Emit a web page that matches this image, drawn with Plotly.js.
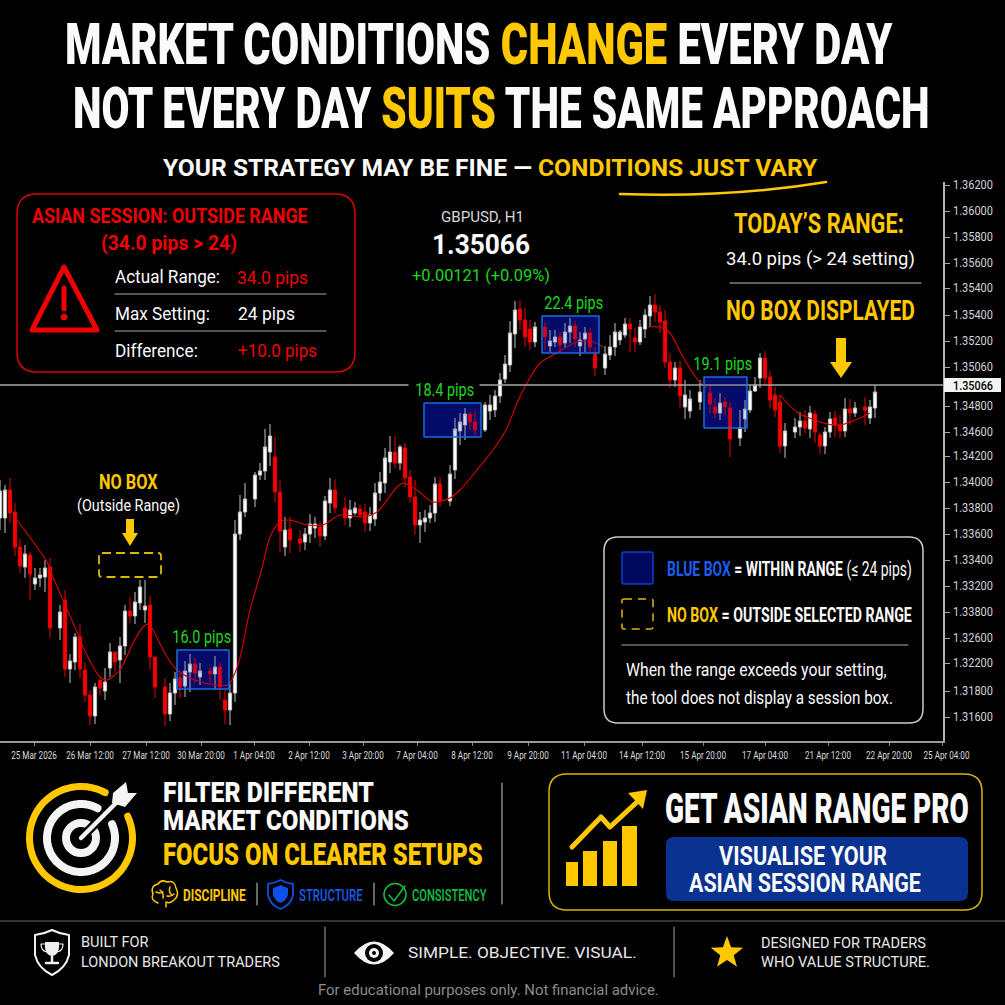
<!DOCTYPE html>
<html><head><meta charset="utf-8">
<script src="https://cdn.plot.ly/plotly-3.0.1.min.js"></script>
<style>html,body{margin:0;padding:0;background:#000}#c{width:1005px;height:1005px}</style>
</head><body><div id="c"></div>
<script>
// ---- chart data ----
const barNo=[0,1,2,3,4,5,6,7,8,9, 10,12,13,14,15,16,17,18,19,20, 21,22,23,24,25,26,27,28,29,30, 31,33,34,35,36,37,38,39,40,42, 43,44,45,46,47,48,49,51,52,53, 54,55,56,57,58,60,61,62,63,64, 65,66,67,69,70,71,72,73,74,75, 76,77,78,79,80,81,82,83,84,85, 86,87,88,90,91,92,93,94,95,97, 98,99,100,101,102,103,104,105,106,107, 109,110,111,112,113,114,115,116,117,118, 119,121,122,123,124,125,126,127,128,129, 130,131,132,133,134,135,136,137,138,140, 142,143,144,145,146,148,149,150,151,152, 153,154,155,156,157,159,160,161,162,163, 164,165,166,167,168,169,170,171,173,174, 175];
const highs=[1.33840,1.33800,1.33856,1.33656,1.33368,1.33320,1.33264,1.33136,1.33136,1.33200,
1.33216,1.32840,1.32960,1.32448,1.32616,1.32688,1.32384,1.32160,1.32216,1.32240,
1.32336,1.32536,1.32464,1.32584,1.32840,1.32904,1.32944,1.33040,1.33040,1.32912,
1.32424,1.32256,1.32216,1.32304,1.32312,1.32392,1.32448,1.32416,1.32376,1.32344,
1.32432,1.32384,1.32160,1.32208,1.33520,1.33720,1.33816,1.33904,1.33976,1.34248,
1.34288,1.34184,1.33832,1.33544,1.33544,1.33440,1.33456,1.33568,1.33544,1.33504,
1.33712,1.33856,1.33848,1.33704,1.33680,1.33664,1.33640,1.33648,1.33624,1.33816,
1.33904,1.34096,1.34192,1.34192,1.34120,1.34136,1.33920,1.33840,1.33584,1.33600,
1.33640,1.33864,1.33864,1.33960,1.34336,1.34376,1.34416,1.34384,1.34400,1.34464,
1.34520,1.34560,1.34696,1.34840,1.35112,1.35272,1.35280,1.35216,1.35120,1.35104,
1.35104,1.35040,1.35040,1.35024,1.35096,1.35136,1.35112,1.35024,1.35064,1.35056,
1.34904,1.34912,1.35000,1.35096,1.35040,1.35136,1.35136,1.35056,1.35120,1.35208,
1.35312,1.35328,1.35240,1.35200,1.34856,1.34784,1.34792,1.34640,1.34560,1.34640,
1.34600,1.34496,1.34536,1.34504,1.34464,1.34400,1.34480,1.34600,1.34664,1.34856,
1.34872,1.34712,1.34584,1.34520,1.34296,1.34336,1.34384,1.34400,1.34432,1.34400,
1.34216,1.34264,1.34384,1.34392,1.34360,1.34496,1.34488,1.34464,1.34504,1.34480,
1.34600];
const opens=[1.33536,1.33536,1.33760,1.33584,1.33304,1.33144,1.33240,1.33008,1.33056,1.33064,
1.33144,1.32656,1.32880,1.32328,1.32384,1.32584,1.32320,1.32120,1.31952,1.32240,
1.32152,1.32336,1.32464,1.32400,1.32512,1.32792,1.32752,1.32856,1.32800,1.32840,
1.32424,1.32184,1.31968,1.32136,1.32256,1.32192,1.32304,1.32368,1.32264,1.32312,
1.32288,1.32344,1.32080,1.32000,1.32136,1.33408,1.33584,1.33688,1.33880,1.33912,
1.34064,1.34024,1.33744,1.33304,1.33448,1.33368,1.33344,1.33408,1.33456,1.33464,
1.33392,1.33656,1.33760,1.33616,1.33536,1.33576,1.33608,1.33584,1.33496,1.33528,
1.33736,1.33816,1.33984,1.34064,1.33976,1.34096,1.33864,1.33704,1.33480,1.33504,
1.33536,1.33576,1.33808,1.33672,1.33920,1.34232,1.34280,1.34368,1.34304,1.34240,
1.34392,1.34400,1.34512,1.34648,1.34760,1.35008,1.35208,1.35120,1.35048,1.34944,
1.35064,1.34912,1.34944,1.34984,1.34936,1.35024,1.35072,1.34912,1.34968,1.35016,
1.34848,1.34736,1.34840,1.34904,1.34960,1.35000,1.35088,1.34976,1.34944,1.35048,
1.35152,1.35240,1.35184,1.35112,1.34784,1.34640,1.34736,1.34424,1.34392,1.34464,
1.34536,1.34424,1.34376,1.34464,1.34416,1.34176,1.34328,1.34400,1.34552,1.34656,
1.34816,1.34664,1.34520,1.34464,1.34112,1.34224,1.34264,1.34312,1.34248,1.34368,
1.34200,1.34112,1.34224,1.34336,1.34280,1.34232,1.34408,1.34376,1.34424,1.34336,
1.34416];
const closes=[1.33752,1.33760,1.33576,1.33304,1.33152,1.33248,1.33088,1.33056,1.33080,1.33136,
1.32656,1.32784,1.32328,1.32392,1.32584,1.32328,1.32120,1.31952,1.32184,1.32176,
1.32224,1.32464,1.32384,1.32512,1.32792,1.32752,1.32864,1.32984,1.32832,1.32424,
1.32184,1.31968,1.32136,1.32248,1.32184,1.32312,1.32368,1.32296,1.32312,1.32288,
1.32344,1.32184,1.32000,1.32136,1.33408,1.33584,1.33688,1.33880,1.33912,1.34104,
1.34192,1.33744,1.33432,1.33440,1.33360,1.33336,1.33408,1.33488,1.33488,1.33392,
1.33672,1.33760,1.33616,1.33536,1.33600,1.33616,1.33560,1.33496,1.33560,1.33736,
1.33824,1.34016,1.34064,1.33976,1.34104,1.33856,1.33704,1.33480,1.33520,1.33536,
1.33576,1.33808,1.33672,1.33888,1.34248,1.34304,1.34368,1.34304,1.34240,1.34440,
1.34440,1.34512,1.34640,1.34768,1.35016,1.35200,1.35120,1.34984,1.34944,1.35064,
1.34984,1.34952,1.34984,1.34920,1.35024,1.35072,1.34968,1.34960,1.35016,1.34904,
1.34736,1.34848,1.34904,1.35024,1.35024,1.35088,1.35048,1.34944,1.35064,1.35160,
1.35240,1.35184,1.35104,1.34784,1.34640,1.34736,1.34512,1.34520,1.34488,1.34544,
1.34448,1.34376,1.34456,1.34424,1.34168,1.34256,1.34408,1.34552,1.34600,1.34816,
1.34656,1.34480,1.34400,1.34112,1.34232,1.34264,1.34312,1.34256,1.34376,1.34224,
1.34112,1.34224,1.34328,1.34280,1.34232,1.34408,1.34376,1.34416,1.34400,1.34424,
1.34544];
const lows=[1.33440,1.33416,1.33496,1.33232,1.33096,1.33056,1.32880,1.32960,1.32984,1.32944,
1.32576,1.32560,1.32264,1.32216,1.32320,1.32256,1.32064,1.31880,1.31888,1.32120,
1.32080,1.32264,1.32296,1.32216,1.32440,1.32696,1.32688,1.32800,1.32696,1.32320,
1.32096,1.31872,1.31912,1.32040,1.32096,1.32104,1.32144,1.32216,1.32200,1.32216,
1.32168,1.32080,1.31888,1.31880,1.32064,1.33360,1.33544,1.33624,1.33840,1.33840,
1.33952,1.33664,1.33264,1.33232,1.33256,1.33264,1.33280,1.33336,1.33376,1.33304,
1.33360,1.33576,1.33576,1.33480,1.33464,1.33560,1.33536,1.33424,1.33432,1.33472,
1.33672,1.33736,1.33896,1.33936,1.33920,1.33784,1.33656,1.33400,1.33336,1.33424,
1.33496,1.33504,1.33624,1.33632,1.33848,1.34120,1.34160,1.34240,1.34184,1.34224,
1.34320,1.34344,1.34456,1.34616,1.34704,1.34896,1.35040,1.34904,1.34880,1.34904,
1.34880,1.34864,1.34904,1.34864,1.34896,1.34936,1.34904,1.34832,1.34864,1.34864,
1.34672,1.34680,1.34800,1.34832,1.34920,1.34976,1.34864,1.34864,1.34920,1.34976,
1.35064,1.35104,1.35016,1.34736,1.34576,1.34584,1.34416,1.34328,1.34336,1.34400,
1.34376,1.34336,1.34320,1.34360,1.34024,1.34112,1.34224,1.34376,1.34544,1.34576,
1.34600,1.34416,1.34344,1.34056,1.34016,1.34176,1.34192,1.34216,1.34176,1.34136,
1.34048,1.34048,1.34176,1.34184,1.34176,1.34184,1.34280,1.34344,1.34280,1.34288,
1.34336];
const emaBar=[3.4,9.4,10.6,12.6,15.4,16.6,20,21.4,24,26.6,28.6,29.6,30.6,33.4,35.4,39,43,45.6,47.6,50,52.4,54,56,58,61.4,64.6,68,72.6,75.4,79.4,80.6,83.4,86.6,90,92,95.4,98.6,101.4,103.4,105.4,108,110.6,115.4,118.6,120.6,null,129.6,132,134,136.6,139.6,141.4,null,156,159.4,164.6,168,172,174];
const emaVal=[1.33520,1.33184,1.33064,1.32880,1.32624,1.32504,1.32264,1.32240,1.32320,1.32536,1.32664,1.32688,1.32640,1.32424,1.32320,1.32240,1.32200,1.32200,1.32360,1.32800,1.33136,1.33384,1.33504,1.33520,1.33480,1.33480,1.33560,1.33544,1.33584,1.33784,1.33816,1.33760,1.33664,1.33696,1.33760,1.33920,1.34080,1.34256,1.34456,1.34616,1.34776,1.34840,1.34944,1.34944,1.34904,null,1.35064,1.35064,1.35016,1.34824,1.34640,1.34576,null,1.34520,1.34384,1.34296,1.34280,1.34336,1.34376];
const priceTicks=[1.36200,1.35992,1.35784,1.35576,1.35376,1.35160,1.34952,1.34744,1.34432,1.34224,1.34032,1.33824,1.33616,1.33408,1.33200,1.32992,1.32784,1.32576,1.32376,1.32152,1.31944];
const priceLabels=["1.36200","1.36000","1.35800","1.35600","1.35400","1.35400","1.35200","1.35060","1.34800","1.34600","1.34200","1.34000","1.33800","1.33600","1.33400","1.33200","1.33800","1.32600","1.32200","1.31800","1.31600"];
const timeTicks=[6.8,18,29.2,40.2,50.8,61.8,72.6,83.4,94.4,105.6,116.8,128.4,140.6,153,165.6,177.8,188.5];
const timeLabels=["25 Mar 2026","26 Mar 12:00","27 Mar 12:00","30 Mar 20:00","1 Apr 04:00","2 Apr 12:00","3 Apr 20:00","7 Apr 04:00","8 Apr 12:00","9 Apr 20:00","11 Apr 04:00","14 Apr 12:00","15 Apr 20:00","17 Apr 04:00","21 Apr 12:00","22 Apr 20:00","25 Apr 04:00"];
const boxStart=[35.4,84.8,108.4,140.8];
const boxEnd=[45.8,96.2,119.8,149.4];
const boxHigh=[1.32480,1.34456,1.35152,1.34664];
const boxLow=[1.32168,1.34184,1.34856,1.34256];
const boxPips=["16.0 pips","18.4 pips","22.4 pips","19.1 pips"];
const boxLabelBar=[40.2,88.8,114.6,144.4];
const lastPrice=1.34600, lastLabel="1.35066";

// ---- style ----
const ROB='"Roboto",sans-serif';
const YEL='#ffc800', RED='#f00000', GRN='#1ed81e', BLU='#1a5cf0', WHT='#fafafa';
const span=(c,s)=>`<span style="color:${c}">${s}</span>`;

const ann=[], shp=[], fit=[];
// x0,x1: the horizontal extent the text is fitted to after drawing (the fonts here are wider than the picture's)
function T(x0,x1,y,text,o={}){ann.push({xref:'x2',yref:'y2',x:x0,y,text,showarrow:false,xanchor:'left',yanchor:'middle',align:'left',borderpad:0,
  font:{family:ROB,size:o.s||14,color:o.c||WHT,weight:o.w||400}});fit.push([x0,x1]);}
function P(path,o={}){shp.push({type:'path',xref:'x2',yref:'y2',path,layer:'above',fillcolor:o.fill||'rgba(0,0,0,0)',line:{color:o.c||'rgba(0,0,0,0)',width:o.w===undefined?1.5:o.w,dash:o.d||'solid'}});}
function C(cx,cy,r,o={}){shp.push({type:'circle',xref:'x2',yref:'y2',x0:cx-r,x1:cx+r,y0:cy-r,y1:cy+r,layer:'above',fillcolor:o.fill||'rgba(0,0,0,0)',line:{color:o.c||'rgba(0,0,0,0)',width:o.w===undefined?1.5:o.w}});}
function L(x0,y0,x1,y1,c,w){P(`M ${x0} ${y0} L ${x1} ${y1}`,{c,w});}
function RR(x0,y0,x1,y1,r,o={}){P(`M ${x0+r} ${y0} L ${x1-r} ${y0} Q ${x1} ${y0} ${x1} ${y0+r} L ${x1} ${y1-r} Q ${x1} ${y1} ${x1-r} ${y1} L ${x0+r} ${y1} Q ${x0} ${y1} ${x0} ${y1-r} L ${x0} ${y0+r} Q ${x0} ${y0} ${x0+r} ${y0} Z`,o);}
function ARC(cx,cy,r,a0,a1,o){let d='';for(let i=0;i<=60;i++){const a=(a0+(a1-a0)*i/60)*Math.PI/180;d+=(i?' L ':'M ')+(cx+r*Math.cos(a)).toFixed(1)+' '+(cy+r*Math.sin(a)).toFixed(1);}P(d,o);}
function STAR(cx,cy,R,r,c){let d='';for(let i=0;i<10;i++){const a=(-90+36*i)*Math.PI/180,q=i%2?r:R;d+=(i?' L ':'M ')+(cx+q*Math.cos(a)).toFixed(1)+' '+(cy+q*Math.sin(a)).toFixed(1);}P(d+' Z',{fill:c,w:0});}
function ARROW(cx,yTop,yNeck,yTip,hs,hh,c){P(`M ${cx-hs} ${yTop} L ${cx+hs} ${yTop} L ${cx+hs} ${yNeck} L ${cx+hh} ${yNeck} L ${cx} ${yTip} L ${cx-hh} ${yNeck} L ${cx-hs} ${yNeck} Z`,{fill:c,w:0});}

// ---- headline ----
T(65,893,44,`MARKET CONDITIONS ${span(YEL,'CHANGE')} EVERY DAY`,{s:58,w:900});
T(73,930,108,`NOT EVERY DAY ${span(YEL,'SUITS')} THE SAME APPROACH`,{s:58,w:900});
T(163,818,168,`YOUR STRATEGY MAY BE FINE — ${span(YEL,'CONDITIONS JUST VARY')}`,{s:24,w:700});
P('M 620 194 Q 730 198 826 182',{c:YEL,w:2.5});

// ---- red panel ----
RR(17,194,355,372,20,{c:'#e00000',w:1.5});
T(32,308,216,'ASIAN SESSION: OUTSIDE RANGE',{s:21,w:700,c:RED});
T(101,237,243,'(34.0 pips &gt; 24)',{s:21,w:700,c:RED});
P('M 64 267 L 32 330 L 97 330 Z',{c:RED,w:5});
L(64,288,64,309,RED,5); C(64,317,3,{fill:RED,c:RED,w:1});
T(115,220,276,'Actual Range:',{s:19});
T(237,308,277,'34.0 pips',{s:19,c:RED});
L(115,294,326,294,'#aaaaaa',1.2);
T(115,210,313,'Max Setting:',{s:19});
T(238,295,313,'24 pips',{s:19});
L(115,331,326,331,'#aaaaaa',1.2);
T(115,198,350,'Difference:',{s:19});
T(238,317,350,'+10.0 pips',{s:19,c:RED});

// ---- symbol header ----
T(441,524,217,'GBPUSD, H1',{s:14,c:'#d8d8d8'});
T(432,530,245,lastLabel,{s:27,w:700});
T(412,550,275,'+0.00121 (+0.09%)',{s:16,c:GRN});

// ---- today's range ----
T(734,904,224,"TODAY’S RANGE:",{s:27,w:700,c:YEL});
T(726,915,258,'34.0 pips (&gt; 24 setting)',{s:19});
L(730,283,921,283,'#bbbbbb',1.2);
T(726,915,311,'NO BOX DISPLAYED',{s:27,w:700,c:YEL});
ARROW(841,338,362,378,5,11,YEL);

// ---- no-box callout ----
T(99,158,482,'NO BOX',{s:20,w:700,c:YEL});
T(77,180,505,'(Outside Range)',{s:16});
ARROW(130,519,533,546,4,8,YEL);
RR(99,553,161,577,3,{c:'#e0b800',w:1.8,d:'9px,5px'});

// ---- legend panel ----
RR(604,537,923,723,14,{c:'#cccccc',w:1.5});
RR(622,552,653,584,2,{c:'#0d3fd0',w:1.5,fill:'#00085e'});
T(667,912,569,`${span(BLU,'<b>BLUE BOX</b>')} <b>= WITHIN RANGE</b> (≤ 24 pips)`,{s:20});
RR(622,599,653,629,2,{c:'#e0b800',w:1.5,d:'8px,6px'});
T(667,912,615,`${span(YEL,'<b>NO BOX</b>')} <b>= OUTSIDE SELECTED RANGE</b>`,{s:20});
L(622,645,908,645,'#aaaaaa',1.2);
T(626,887,669,'When the range exceeds your setting,',{s:18});
T(626,893,697,'the tool does not display a session box.',{s:18});

// ---- target icon ----
ARC(81,838,51.5,-25,298,{c:YEL,w:7});
ARC(81,838,34,-24,299,{c:'#f4f4f4',w:8});
C(81,838,15,{c:'#f4f4f4',w:8});
L(81,838,118,801,'#000',9);
L(81,838,118,801,'#f4f4f4',4.5);
P('M 113 793 L 126 782 L 128 793 L 137 793 L 125 807 L 112 803 Z',{fill:'#f4f4f4',w:0});

// ---- left bottom copy ----
T(163,374,793,'FILTER DIFFERENT',{s:27,w:900});
T(163,409,821,'MARKET CONDITIONS',{s:27,w:900});
T(163,483,854,'FOCUS ON CLEARER SETUPS',{s:31,w:900,c:YEL});
P('M 158 903 Q 150 900 153 894 Q 150 886 158 884 Q 161 879 167 882 Q 175 880 176 888 Q 180 895 174 900 Q 170 904 166 902 L 166 907 M 160 890 Q 164 893 163 898 M 170 887 Q 168 892 172 895 M 156 892 Q 160 894 163 892 M 167 896 Q 171 897 174 894',{c:YEL,w:1.5});
T(183,246,895,'DISCIPLINE',{s:17,w:700,c:YEL});
L(257,883,257,905,'#aaaaaa',1.2);
P('M 280.5 880 Q 275 883 268 884 L 268 895 Q 270 905 280.5 909 Q 291 905 293 895 L 293 884 Q 286 883 280.5 880 Z',{c:'#0d4fe8',w:1.8});
P('M 280.5 885 Q 277 887 273 888 L 273 895 Q 275 901 280.5 903 Q 286 901 288 895 L 288 888 Q 284 887 280.5 885 Z',{fill:'#0d4fe8',w:0});
T(299,363,895,'STRUCTURE',{s:17,w:500,c:BLU});
L(374,883,374,905,'#aaaaaa',1.2);
C(395,894.5,11,{c:'#10c040',w:1.5});
P('M 389 895 L 394 901 L 405 886',{c:'#10c040',w:1.5});
T(412,487,895,'CONSISTENCY',{s:17,w:500,c:'#10c040'});
L(502,783,502,904,'#aaaaaa',1.2);

// ---- CTA ----
RR(549,774,982,910,18,{c:'#d4b800',w:1.5});
P('M 566 862 L 578 862 L 578 886 L 566 886 Z',{fill:YEL,w:0});
P('M 583 851 L 597 851 L 597 886 L 583 886 Z',{fill:YEL,w:0});
P('M 603 841 L 617 841 L 617 886 L 603 886 Z',{fill:YEL,w:0});
P('M 622 826 L 637 826 L 637 886 L 622 886 Z',{fill:YEL,w:0});
P('M 572 847 L 601 817 L 610 827 L 637 802',{c:YEL,w:5});
P('M 647 790 L 628 793 L 643 809 Z',{fill:YEL,w:0});
T(665,969,808,'GET ASIAN RANGE PRO',{s:43,w:900});
RR(666,837,968,901,8,{fill:'#0a3290',w:0});
T(719,887,856,'VISUALISE YOUR',{s:25,w:700});
T(689,921,883,'ASIAN SESSION RANGE',{s:25,w:700});

// ---- footer ----
L(0,921,1005,921,'#444444',1.5);
P('M 52 930 Q 44 934 35 935 L 35 955 Q 38 968 52 975 Q 66 968 69 955 L 69 935 Q 60 934 52 930 Z',{c:'#f0f0f0',w:2});
P('M 45 942 L 59 942 L 59 948 Q 58 955 52 956 Q 46 955 45 948 Z',{fill:'#f0f0f0',w:0});
P('M 45 944 L 41 944 Q 41 951 47 952 M 59 944 L 63 944 Q 63 951 57 952',{c:'#f0f0f0',w:1.2});
L(52,956,52,962,'#f0f0f0',2.5);
L(46,963,58,963,'#f0f0f0',2.5);
T(81,149,942,'BUILT FOR',{s:15.5,c:'#e8e8e8'});
T(81,280,962,'LONDON BREAKOUT TRADERS',{s:15.5,c:'#e8e8e8'});
L(325,927,325,977,'#888888',1.2);
P('M 354 953 Q 374 930 394 953 Q 374 976 354 953 Z',{fill:'#f4f4f4',w:0});
C(374,953,9,{fill:'#000'});
C(374,953,5,{fill:'#f4f4f4'});
C(374,953,2,{fill:'#000'});
T(408,637,953,'SIMPLE. OBJECTIVE. VISUAL.',{s:15.5,c:'#e8e8e8'});
L(674,927,674,977,'#888888',1.2);
STAR(727,953,17,7,YEL);
T(761,926,943,'DESIGNED FOR TRADERS',{s:15.5,c:'#e8e8e8'});
T(761,930,962,'WHO VALUE STRUCTURE.',{s:15.5,c:'#e8e8e8'});
T(318,659,990,'For educational purposes only. Not financial advice.',{s:14.5,c:'#8c8c8c'});

// ---- price line & tag ----
shp.push({type:'line',xref:'x2',yref:'y',x0:0,x1:408,y0:lastPrice,y1:lastPrice,layer:'above',line:{color:'#a6a6a6',width:1.5}});
shp.push({type:'line',xref:'x2',yref:'y',x0:480,x1:943,y0:lastPrice,y1:lastPrice,layer:'above',line:{color:'#a6a6a6',width:1.5}});
shp.push({type:'rect',xref:'x2',yref:'y2',x0:944,x1:1001,y0:378,y1:392,layer:'above',fillcolor:'#f4f4f4',line:{width:0}});
T(953,993,385,lastLabel,{s:13,w:500,c:'#000'});

// ---- session boxes from data ----
boxStart.forEach((b,i)=>{
  shp.push({type:'rect',xref:'x',yref:'y',x0:b,x1:boxEnd[i],y0:boxLow[i],y1:boxHigh[i],layer:'below',fillcolor:'#00085e',line:{width:0}});
  shp.push({type:'rect',xref:'x',yref:'y',x0:b,x1:boxEnd[i],y0:boxLow[i],y1:boxHigh[i],layer:'above',fillcolor:'rgba(20,30,150,0.18)',line:{color:'#1a6ce0',width:1.5}});
  ann.push({xref:'x',yref:'y',x:boxLabelBar[i],y:boxHigh[i],yshift:14,text:boxPips[i],showarrow:false,yanchor:'middle',borderpad:0,font:{family:ROB,size:18,color:GRN}});
  fit.push({k:0.8});
});

const data=[
 {type:'candlestick',x:barNo,open:opens,high:highs,low:lows,close:closes,xaxis:'x',yaxis:'y',whiskerwidth:0,
  increasing:{line:{color:'#c4c4c4',width:1},fillcolor:'#ffffff'},decreasing:{line:{color:'#e80000',width:1},fillcolor:'#ff0000'},hoverinfo:'skip'},
 {type:'scatter',mode:'lines',x:emaBar,y:emaVal,xaxis:'x',yaxis:'y',line:{color:'#dc0000',width:1.1,shape:'spline',smoothing:0.8},connectgaps:false,hoverinfo:'skip'}
];
const layout={width:1005,height:1005,autosize:false,showlegend:false,margin:{l:0,r:0,t:0,b:0,pad:0},
 paper_bgcolor:'#000',plot_bgcolor:'rgba(0,0,0,0)',boxgap:0.08,
 xaxis:{domain:[0,943/1005],range:[0,188.6],type:'linear',anchor:'y',tickmode:'array',tickvals:timeTicks,ticktext:timeLabels,tickangle:0,
   ticks:'outside',ticklen:3,tickcolor:'#888',tickfont:{family:ROB,size:11,color:'#dcdcdc'},showgrid:false,zeroline:false,showline:true,linecolor:'#9a9a9a',linewidth:1.5,rangeslider:{visible:false},fixedrange:true},
 yaxis:{domain:[264/1005,823/1005],range:[1.31752,1.36224],anchor:'x',side:'right',tickmode:'array',tickvals:priceTicks,ticktext:priceLabels,
   ticks:'outside',ticklen:5,tickcolor:'#aaa',tickfont:{family:ROB,size:12.5,color:'#d4d4d4'},showgrid:false,zeroline:false,showline:true,linecolor:'#b0b0b0',linewidth:1.5,fixedrange:true},
 xaxis2:{domain:[0,1],range:[0,1005],anchor:'y2',visible:false,fixedrange:true},
 yaxis2:{domain:[0,1],range:[1005,0],anchor:'x2',visible:false,fixedrange:true},
 shapes:shp,annotations:ann};

// horizontal fit of a drawn text: no font on this machine is as narrow as the picture's
function squeeze(el,x0,x1){
  const r=el.getBoundingClientRect(); if(!r.width) return;
  const k=(x1-x0)/r.width, ox=el.parentNode.getCTM().e, px=r.left-ox, dx=x0-r.left, old=el.getAttribute('transform')||'';
  el.setAttribute('transform',`translate(${px+dx},0) scale(${k},1) translate(${-px},0) ${old}`);
}
Plotly.newPlot('c',data,layout,{displayModeBar:false,staticPlot:true}).then(()=>{
  document.querySelectorAll('.annotation').forEach(g=>{
    const i=+g.getAttribute('data-index'), el=g.querySelector('text.annotation-text'), f=fit[i]; if(!el||!f) return;
    if(Array.isArray(f)) squeeze(el,f[0],f[1]);
    else{const r=el.getBoundingClientRect(),w=r.width*f.k,c=r.left+r.width/2;squeeze(el,c-w/2,c+w/2);}
  });
  document.querySelectorAll('.xtick text').forEach((el,i)=>{
    const r=el.getBoundingClientRect(),w=r.width*0.74,c=r.left+r.width/2+(i===timeLabels.length-1?4:0);squeeze(el,c-w/2,c+w/2);
  });
  document.querySelectorAll('.ytick text').forEach(el=>squeeze(el,953,993));
  document.querySelectorAll('.shapelayer path').forEach(p=>{p.style.strokeLinejoin='round';p.style.strokeLinecap=p.style.strokeDasharray&&p.style.strokeDasharray!=='none'?'butt':'round';});
});
</script></body></html>
